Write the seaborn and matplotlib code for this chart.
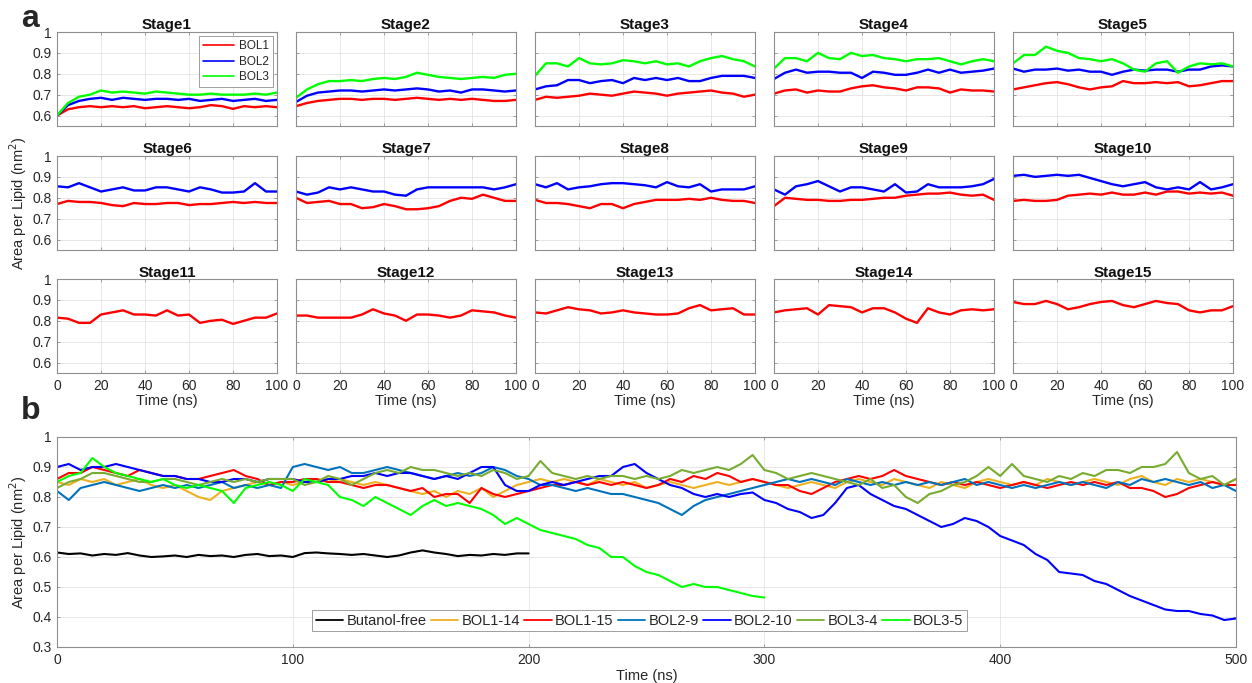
import matplotlib
matplotlib.use("Agg")
import matplotlib.pyplot as plt
import seaborn as sns

# ---------------- panel a: area per lipid for each stage (t = 0..100 ns, every 5 ns)
stage_time = [0, 5, 10, 15, 20, 25, 30, 35, 40, 45, 50, 55, 60, 65, 70, 75, 80, 85, 90, 95, 100]

s1_bol1 = [.60, .63, .64, .645, .64, .645, .64, .645, .635, .64, .645, .64, .635, .64, .65, .645, .632, .645, .64, .645, .64]
s1_bol2 = [.60, .65, .67, .68, .685, .675, .685, .68, .675, .68, .68, .675, .68, .67, .675, .68, .67, .675, .68, .67, .675]
s1_bol3 = [.60, .66, .69, .70, .72, .71, .715, .71, .705, .715, .71, .705, .70, .70, .705, .70, .70, .70, .705, .70, .71]

s2_bol1 = [.645, .66, .67, .675, .68, .68, .675, .68, .68, .675, .68, .685, .68, .675, .68, .675, .68, .675, .67, .67, .675]
s2_bol2 = [.665, .695, .71, .715, .72, .72, .715, .72, .725, .72, .725, .73, .725, .715, .72, .71, .725, .725, .72, .715, .72]
s2_bol3 = [.685, .725, .75, .765, .765, .77, .765, .775, .78, .775, .785, .805, .795, .785, .78, .775, .78, .785, .78, .795, .80]

s3_bol1 = [.675, .69, .685, .69, .695, .705, .70, .695, .705, .715, .71, .705, .695, .705, .71, .715, .72, .71, .705, .69, .70]
s3_bol2 = [.725, .74, .745, .77, .77, .755, .765, .77, .755, .78, .77, .78, .77, .78, .765, .765, .78, .79, .79, .79, .78]
s3_bol3 = [.79, .85, .85, .835, .875, .85, .845, .85, .865, .86, .85, .86, .845, .85, .835, .86, .875, .885, .87, .86, .835]

s4_bol1 = [.705, .72, .725, .71, .72, .715, .715, .73, .74, .745, .735, .73, .72, .735, .735, .73, .71, .725, .72, .72, .715]
s4_bol2 = [.775, .805, .82, .805, .81, .81, .805, .805, .78, .81, .805, .795, .795, .805, .82, .805, .82, .805, .81, .815, .825]
s4_bol3 = [.825, .875, .875, .86, .90, .875, .87, .90, .885, .89, .875, .87, .86, .87, .87, .875, .86, .845, .86, .87, .86]

s5_bol1 = [.725, .735, .745, .755, .76, .75, .735, .725, .735, .74, .765, .755, .755, .76, .755, .76, .74, .745, .755, .765, .765]
s5_bol2 = [.825, .81, .82, .82, .825, .815, .82, .81, .81, .795, .81, .82, .815, .82, .82, .81, .82, .82, .835, .84, .835]
s5_bol3 = [.85, .89, .89, .93, .91, .90, .875, .87, .86, .87, .85, .82, .81, .85, .86, .805, .835, .85, .845, .85, .835]

s6_bol1 = [.77, .785, .78, .78, .775, .765, .76, .775, .77, .77, .775, .775, .765, .77, .77, .775, .78, .775, .78, .775, .775]
s6_bol2 = [.855, .85, .87, .85, .83, .84, .85, .835, .835, .85, .85, .84, .83, .85, .84, .825, .825, .83, .87, .83, .83]

s7_bol1 = [.80, .775, .78, .785, .77, .77, .75, .755, .77, .76, .745, .745, .75, .76, .785, .80, .795, .815, .80, .785, .785]
s7_bol2 = [.83, .815, .825, .85, .84, .85, .84, .83, .83, .815, .81, .84, .85, .85, .85, .85, .85, .85, .84, .85, .865]

s8_bol1 = [.79, .775, .775, .77, .76, .75, .77, .77, .75, .77, .78, .79, .79, .79, .795, .79, .80, .79, .785, .785, .775]
s8_bol2 = [.865, .85, .87, .84, .85, .855, .865, .87, .87, .865, .86, .85, .875, .855, .85, .865, .83, .84, .84, .84, .855]

s9_bol1 = [.76, .80, .795, .79, .79, .785, .785, .79, .79, .795, .80, .80, .81, .815, .82, .82, .825, .815, .81, .815, .79]
s9_bol2 = [.84, .815, .855, .865, .88, .855, .83, .85, .85, .84, .83, .865, .825, .83, .865, .85, .85, .85, .855, .865, .89]

s10_bol1 = [.785, .79, .785, .785, .79, .81, .815, .82, .815, .825, .815, .815, .825, .815, .83, .83, .82, .825, .82, .825, .81]
s10_bol2 = [.905, .91, .90, .905, .91, .905, .91, .895, .88, .865, .855, .865, .875, .85, .84, .85, .84, .875, .84, .85, .865]

s11_bol1 = [.815, .81, .79, .79, .83, .84, .85, .83, .83, .825, .85, .825, .83, .79, .80, .805, .785, .80, .815, .815, .835]
s12_bol1 = [.825, .825, .815, .815, .815, .815, .83, .855, .835, .825, .80, .83, .83, .825, .815, .825, .85, .845, .84, .825, .815]
s13_bol1 = [.84, .835, .85, .865, .855, .85, .835, .84, .85, .84, .835, .83, .83, .835, .86, .875, .85, .855, .86, .83, .83]
s14_bol1 = [.84, .85, .855, .86, .83, .875, .87, .865, .84, .86, .86, .84, .81, .79, .86, .84, .83, .85, .855, .85, .855]
s15_bol1 = [.89, .88, .88, .895, .88, .855, .865, .88, .89, .895, .875, .865, .88, .895, .885, .88, .85, .84, .85, .85, .87]

stage_names = ["Stage%d" % i for i in range(1, 16)]
bol_labels = ["BOL1", "BOL2", "BOL3"]

# ---------------- panel b: long runs (every 5 ns)
time_200 = list(range(0, 201, 5))
time_300 = list(range(0, 301, 5))
time_500 = list(range(0, 501, 5))

butanol_free = [.615, .61, .612, .605, .61, .607, .613, .605, .60, .602,
                .605, .60, .607, .603, .605, .60, .607, .61, .603, .605,
                .60, .613, .615, .612, .61, .607, .61, .605, .60, .605,
                .615, .622, .615, .61, .603, .607, .605, .61, .607, .612,
                .612]
bol1_14 = [.85, .84, .86, .85, .86, .84, .85, .86, .84, .83,
           .84, .82, .80, .79, .82, .83, .84, .85, .84, .85,
           .84, .85, .86, .85, .86, .85, .84, .85, .84, .83,
           .82, .81, .82, .80, .82, .81, .83, .80, .82, .84,
           .85, .86, .85, .86, .85, .84, .86, .85, .84, .85,
           .83, .84, .85, .84, .83, .84, .85, .84, .85, .86,
           .85, .84, .83, .84, .85, .84, .83, .85, .86, .85,
           .84, .86, .85, .84, .83, .85, .84, .83, .85, .86,
           .85, .84, .85, .84, .86, .85, .84, .85, .86, .85,
           .84, .86, .87, .85, .84, .86, .85, .86, .85, .84,
           .86]
bol1_15 = [.86, .88, .88, .90, .89, .88, .87, .89, .88, .87,
           .87, .86, .86, .87, .88, .89, .87, .86, .84, .85,
           .85, .86, .86, .85, .85, .84, .83, .84, .84, .83,
           .82, .83, .80, .81, .81, .78, .83, .81, .80, .81,
           .82, .83, .84, .84, .85, .84, .85, .84, .85, .84,
           .83, .84, .86, .85, .87, .86, .88, .87, .85, .86,
           .85, .84, .84, .82, .81, .83, .85, .86, .87, .86,
           .87, .89, .87, .86, .85, .84, .85, .84, .85, .84,
           .83, .84, .85, .84, .83, .84, .85, .84, .85, .84,
           .85, .83, .83, .82, .80, .81, .83, .84, .85, .84,
           .84]
bol2_9 = [.82, .79, .83, .84, .85, .84, .83, .82, .83, .84,
          .83, .84, .83, .84, .85, .83, .84, .83, .84, .83,
          .90, .91, .90, .89, .90, .88, .88, .89, .90, .89,
          .88, .87, .86, .87, .88, .87, .88, .90, .89, .87,
          .86, .84, .84, .83, .82, .83, .82, .81, .81, .80,
          .79, .78, .76, .74, .77, .79, .80, .81, .82, .83,
          .84, .85, .86, .85, .86, .85, .84, .86, .85, .84,
          .85, .84, .85, .84, .85, .84, .85, .86, .84, .85,
          .84, .83, .84, .83, .84, .85, .84, .85, .84, .83,
          .85, .84, .86, .85, .86, .85, .84, .85, .83, .84,
          .82]
bol2_10 = [.90, .91, .89, .90, .90, .91, .90, .89, .88, .87,
           .87, .86, .86, .85, .85, .86, .86, .85, .86, .86,
           .86, .85, .85, .86, .86, .87, .87, .88, .87, .88,
           .88, .87, .86, .87, .86, .88, .90, .90, .84, .82,
           .82, .84, .85, .84, .85, .86, .87, .87, .90, .91,
           .88, .86, .84, .83, .81, .80, .81, .80, .81, .815,
           .79, .78, .76, .75, .73, .74, .78, .83, .84, .81,
           .79, .77, .76, .74, .72, .70, .71, .73, .72, .70,
           .67, .655, .64, .61, .59, .55, .545, .54, .52, .51,
           .49, .47, .455, .44, .425, .42, .42, .41, .405, .39,
           .395]
bol3_4 = [.83, .85, .86, .88, .88, .87, .86, .85, .85, .86,
          .86, .85, .84, .85, .86, .85, .86, .85, .86, .86,
          .86, .84, .85, .87, .86, .84, .86, .88, .89, .88,
          .90, .89, .89, .88, .87, .88, .87, .89, .88, .86,
          .87, .92, .88, .87, .86, .87, .86, .87, .87, .86,
          .87, .86, .87, .89, .88, .89, .90, .89, .91, .94,
          .89, .88, .86, .87, .88, .87, .86, .85, .84, .86,
          .83, .84, .80, .78, .81, .82, .84, .85, .87, .90,
          .87, .91, .87, .86, .85, .87, .86, .88, .87, .89,
          .89, .88, .90, .90, .91, .95, .88, .86, .87, .84,
          .86]
bol3_5 = [.85, .87, .88, .93, .90, .88, .87, .86, .85, .86,
          .84, .83, .84, .83, .82, .78, .83, .84, .85, .84,
          .82, .86, .85, .84, .80, .79, .77, .80, .78, .76,
          .74, .77, .79, .77, .78, .77, .76, .74, .71, .73,
          .71, .69, .68, .67, .66, .64, .63, .60, .60, .57,
          .55, .54, .52, .50, .51, .50, .50, .49, .48, .47,
          .465]

run_labels = ["Butanol-free", "BOL1-14", "BOL1-15", "BOL2-9", "BOL2-10", "BOL3-4", "BOL3-5"]
run_colors = ["#000000", "#EDB120", "#FF0000", "#0072BD", "#0000FF", "#77AC30", "#00FF00"]
bol_colors = ["#FF0000", "#0000FF", "#00FF00"]

# ---------------- styling
sns.set_theme(style="white")
plt.rcParams["font.family"] = ["Liberation Sans", "DejaVu Sans"]
TXT = "#262626"
EDGE = "#8f8f8f"
GRID = "#e3e3e3"

W, H = 1252, 683
fig = plt.figure(figsize=(W / 100, H / 100), dpi=100)


def box(left, top, right, bottom):
    return [left / W, 1 - bottom / H, (right - left) / W, (bottom - top) / H]


def matlab_axes(ax):
    for sp in ax.spines.values():
        sp.set_color(EDGE)
        sp.set_linewidth(0.8)
    ax.tick_params(direction="in", length=2.5, width=0.6, color=EDGE,
                   labelcolor=TXT, labelsize=10, top=True, right=True,
                   bottom=True, left=True, pad=4)
    ax.grid(True, color=GRID, lw=0.6)
    ax.set_axisbelow(True)
    ax.set_xlabel("")
    ax.set_ylabel("")


stage_series = [
    [s1_bol1, s1_bol2, s1_bol3], [s2_bol1, s2_bol2, s2_bol3], [s3_bol1, s3_bol2, s3_bol3],
    [s4_bol1, s4_bol2, s4_bol3], [s5_bol1, s5_bol2, s5_bol3],
    [s6_bol1, s6_bol2], [s7_bol1, s7_bol2], [s8_bol1, s8_bol2], [s9_bol1, s9_bol2],
    [s10_bol1, s10_bol2],
    [s11_bol1], [s12_bol1], [s13_bol1], [s14_bol1], [s15_bol1],
]

col_left = [57, 296, 535, 774, 1013]
col_w = 220
row_tb = [(32, 126), (156, 250), (279, 373)]

for idx, series in enumerate(stage_series):
    r, c = divmod(idx, 5)
    top, bottom = row_tb[r]
    ax = fig.add_axes(box(col_left[c], top, col_left[c] + col_w, bottom))
    for k, vals in enumerate(series):
        sns.lineplot(x=stage_time, y=vals, ax=ax, color=bol_colors[k], lw=1.7,
                     estimator=None, sort=False, legend=False)
    ax.set_xlim(0, 100)
    ax.set_ylim(0.55, 1.0)
    ax.set_xticks([0, 20, 40, 60, 80, 100])
    ax.set_yticks([0.6, 0.7, 0.8, 0.9, 1.0])
    matlab_axes(ax)
    ax.set_yticklabels(["0.6", "0.7", "0.8", "0.9", "1"] if c == 0 else [])
    if r == 2:
        ax.set_xticklabels(["0", "20", "40", "60", "80", "100"])
        ax.set_xlabel("Time (ns)", fontsize=10.5, color=TXT, labelpad=1)
    else:
        ax.set_xticklabels([])
    ax.set_title(stage_names[idx], fontsize=11, fontweight="bold", color="#111111", pad=1.5)
    if idx == 0:
        leg = ax.legend(handles=ax.get_lines()[:3], labels=bol_labels, loc="upper right",
                        fontsize=8.5, frameon=True, fancybox=False, framealpha=1,
                        edgecolor=EDGE, handlelength=2.6, handletextpad=0.4,
                        labelspacing=0.3, borderpad=0.35, borderaxespad=0.35)
        leg.get_frame().set_linewidth(0.6)
        for line in leg.get_lines():
            line.set_linewidth(1.2)
        for t in leg.get_texts():
            t.set_color(TXT)
    if idx == 5:
        ax.set_ylabel("Area per Lipid (nm$^2$)", fontsize=10.5, color=TXT, labelpad=2)

# ---------------- panel b
axb = fig.add_axes(box(57, 437, 1236, 647))
run_x = [time_200, time_500, time_500, time_500, time_500, time_500, time_300]
run_y = [butanol_free, bol1_14, bol1_15, bol2_9, bol2_10, bol3_4, bol3_5]
for xs, ys, col in zip(run_x, run_y, run_colors):
    sns.lineplot(x=xs, y=ys, ax=axb, color=col, lw=1.5, estimator=None, sort=False,
                 legend=False)
axb.set_xlim(0, 500)
axb.set_ylim(0.3, 1.0)
axb.set_xticks([0, 100, 200, 300, 400, 500])
axb.set_yticks([0.3, 0.4, 0.5, 0.6, 0.7, 0.8, 0.9, 1.0])
matlab_axes(axb)
axb.set_yticklabels(["0.3", "0.4", "0.5", "0.6", "0.7", "0.8", "0.9", "1"])
axb.set_xticklabels(["0", "100", "200", "300", "400", "500"])
axb.set_xlabel("Time (ns)", fontsize=10.5, color=TXT, labelpad=2)
axb.set_ylabel("Area per Lipid (nm$^2$)", fontsize=10.5, color=TXT, labelpad=2)
legb = axb.legend(handles=axb.get_lines(), labels=run_labels, loc="lower center",
                  bbox_to_anchor=(0.494, 0.04), ncol=7, fontsize=10.5, frameon=True,
                  fancybox=False, framealpha=1, edgecolor=EDGE, handlelength=1.9,
                  handletextpad=0.2, columnspacing=0.3, borderpad=0.25)
legb.get_frame().set_linewidth(0.6)
for line in legb.get_lines():
    line.set_linewidth(1.3)
for t in legb.get_texts():
    t.set_color(TXT)

# panel letters
fig.text(21 / W, 1 - 19 / H, "a", fontsize=23, fontweight="bold", ha="left", va="center")
fig.text(21 / W, 1 - 411 / H, "b", fontsize=23, fontweight="bold", ha="left", va="center")

fig.savefig("out.png", dpi=100, facecolor="white")
